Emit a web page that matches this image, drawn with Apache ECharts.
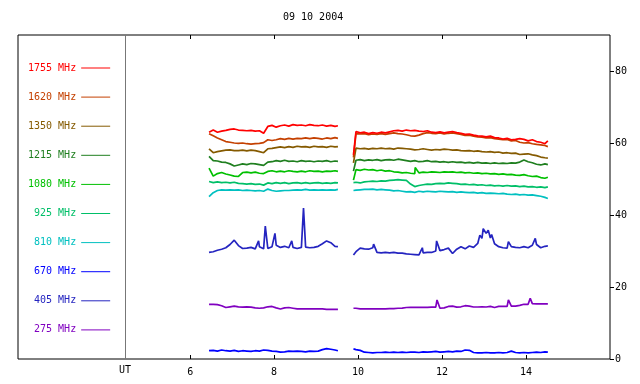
<!DOCTYPE html>
<html><head><meta charset="utf-8">
<script src="https://cdn.jsdelivr.net/npm/echarts@6/dist/echarts.min.js"></script>
<style>html,body{margin:0;padding:0;background:#fff}#c{width:640px;height:384px}</style>
</head><body><div id="c"></div>
<script>
const chartTitle = '09 10 2004';
const xTicks = [6, 8, 10, 12, 14];
const yTicks = [0, 20, 40, 60, 80];
const utHour = 4.45;

// sample times (UT hours), two observing segments
const T1 = [6.45,6.55,6.65,6.75,6.85,6.95,7.05,7.15,7.25,7.35,7.45,7.55,7.65,7.75,7.85,7.95,8.05,8.15,8.25,8.35,8.45,8.55,8.65,8.75,8.85,8.95,9.05,9.15,9.25,9.35,9.45,9.52];
const T2 = [9.89,9.95,10.05,10.15,10.25,10.35,10.45,10.55,10.65,10.75,10.85,10.95,11.05,11.15,11.25,11.35,11.45,11.55,11.65,11.75,11.85,11.95,12.05,12.15,12.25,12.35,12.45,12.55,12.65,12.75,12.85,12.95,13.05,13.15,13.25,13.35,13.45,13.55,13.65,13.75,13.85,13.95,14.05,14.15,14.25,14.35,14.45,14.52];

const names  = ['1755 MHz','1620 MHz','1350 MHz','1215 MHz','1080 MHz','925 MHz','810 MHz','670 MHz','405 MHz','275 MHz'];
const colors = ['#ff0000','#c44000','#855a00','#1f7f1f','#00c000','#00bf68','#00c0c0','#0000ff','#2424c0','#8000c0'];

const mhz1755 = [63.0,63.6,63.0,63.3,63.5,63.8,63.9,63.6,63.5,63.4, 63.5,63.3,63.4,62.7,64.6,64.9,64.4,64.8,65.0,64.7, 65.1,64.9,65.0,64.8,65.1,64.9,64.8,65.0,64.7,64.9, 64.6,64.8,
  56.7,63.2,62.8,63.0,62.6,62.9,62.7,63.0,62.8,63.1, 63.4,63.5,63.3,63.6,63.4,63.5,63.3,63.2,63.4,63.0, 62.9,63.1,62.8,63.0,63.2,62.9,62.7,62.4,62.5,62.2, 62.0,61.9,61.7,61.9,61.5,61.4,61.1,61.3,60.9,61.0, 61.2,61.0,60.6,60.9,60.4,60.2,59.8,60.6];
const mhz1620 = [62.6,62.0,61.4,60.9,60.4,60.2,60.0,59.9,60.0,59.8, 59.7,59.8,59.9,60.1,60.9,60.7,60.9,61.2,61.0,61.3, 61.1,61.3,61.2,61.4,61.2,61.4,61.3,61.1,61.4,61.2, 61.5,61.3,
  56.0,62.6,62.5,62.6,62.3,62.5,62.4,62.6,62.4,62.6, 62.8,62.6,62.5,62.3,62.0,61.9,62.2,62.6,62.9,62.7, 62.6,62.8,62.5,62.7,62.8,62.6,62.4,62.1,62.2,61.9, 61.7,61.6,61.4,61.5,61.2,61.1,60.9,61.0,60.6,60.7, 60.2,60.0,60.1,59.8,59.6,59.5,59.3,59.0];
const mhz1350 = [58.4,57.3,57.6,57.8,58.0,58.1,57.9,57.9,58.0,57.8, 58.0,57.9,57.6,57.3,58.4,58.5,58.7,58.9,58.7,59.0, 58.8,59.1,58.9,59.0,58.8,59.1,58.9,59.0,58.8,59.1, 58.9,59.0,
  54.5,58.6,58.4,58.5,58.3,58.5,58.4,58.6,58.4,58.5, 58.3,58.6,58.5,58.4,58.3,58.1,58.2,58.4,58.2,58.0, 58.2,58.1,58.3,58.2,58.0,58.1,57.9,57.8,57.9,57.7, 57.8,57.6,57.5,57.6,57.4,57.5,57.2,57.3,57.1,57.2, 56.8,56.9,57.0,56.7,56.5,56.1,55.9,55.8];
const mhz1215 = [56.3,55.1,55.0,54.7,54.6,54.2,53.6,53.9,54.2,54.0, 54.3,54.2,54.0,53.8,54.7,54.8,55.1,54.9,55.2,54.9, 55.0,54.8,55.1,54.9,55.0,54.8,55.0,54.9,55.1,54.8, 55.0,54.9,
  52.2,55.2,55.4,55.1,55.3,55.2,55.4,55.1,55.3,55.4, 55.2,55.5,55.3,55.1,54.9,55.1,54.8,54.9,55.1,54.8, 54.9,54.7,54.8,54.6,54.8,54.6,54.7,54.5,54.6,54.4, 54.6,54.4,54.5,54.3,54.5,54.3,54.4,54.3,54.5,54.4, 54.7,55.3,54.8,54.5,54.1,53.9,54.2,54.0];
const mhz1080 = [53.0,50.8,51.5,51.8,51.4,51.1,50.8,50.7,51.8,51.9, 51.7,51.9,51.6,51.5,52.1,52.3,52.0,52.2,52.0,52.3, 52.1,52.0,52.2,52.0,52.3,52.1,52.2,52.0,52.2,52.1, 52.3,52.1,
  49.7,52.6,52.4,52.7,52.5,52.6,52.3,52.5,52.2,52.3, 52.0,51.9,51.7,51.8,51.6,51.5,51.7,51.9,51.8,52.0, 51.9,51.8,52.0,51.9,52.0,51.8,51.9,51.7,51.8,51.6, 51.7,51.5,51.6,51.4,51.5,51.3,51.4,51.2,51.3,51.1, 51.0,51.2,50.9,50.7,50.8,50.4,50.2,50.5];
const mhz925 = [49.3,49.0,49.2,49.0,49.1,48.9,49.1,48.8,48.7,48.6, 48.7,48.5,48.6,48.3,48.9,48.7,49.0,48.8,49.0,48.7, 48.9,49.0,48.8,49.0,48.8,48.9,49.0,48.8,48.9,48.8, 49.0,48.9,
  49.0,49.1,48.9,49.2,49.3,49.4,49.3,49.5,49.4,49.6, 49.7,49.8,49.7,49.6,48.6,47.9,48.2,48.4,48.6,48.5, 48.7,48.8,48.7,48.9,48.8,48.7,48.5,48.6,48.4,48.5, 48.3,48.4,48.2,48.3,48.1,48.2,48.0,48.2,48.0,48.1, 47.9,48.0,47.8,47.9,47.7,47.8,47.6,47.8];
const mhz810 = [45.1,46.2,46.8,47.0,46.9,47.0,46.9,47.0,46.8,46.9, 46.8,46.7,46.8,46.6,47.2,46.8,46.6,46.7,46.8,46.8, 46.9,47.0,46.9,47.1,46.9,47.0,46.9,47.0,46.9,47.0, 46.9,47.1,
  46.8,46.9,47.0,47.1,47.1,47.2,47.0,47.1,47.0,46.9, 46.7,46.8,46.6,46.4,46.5,46.3,46.6,46.4,46.6,46.5, 46.4,46.6,46.5,46.4,46.5,46.3,46.4,46.3,46.2,46.3, 46.1,46.2,46.0,46.1,46.0,45.9,46.0,45.8,45.7,45.8, 45.6,45.7,45.5,45.6,45.4,45.2,44.9,44.6];
const mhz670 = [2.3,2.4,2.2,2.5,2.3,2.2,2.4,2.1,2.3,2.2, 2.1,2.3,2.2,2.5,2.4,2.2,2.1,1.9,2.0,2.2, 2.1,2.2,2.1,2.0,2.2,2.1,2.2,2.6,2.9,2.7, 2.5,2.3,
  2.8,2.6,2.4,1.9,1.8,1.7,1.8,1.8,1.9,1.8, 1.9,1.8,1.9,1.8,1.9,1.9,1.8,2.0,1.9,2.0, 2.1,1.9,2.0,2.1,2.0,2.2,2.1,2.5,2.4,1.8, 1.7,1.7,1.8,1.7,1.7,1.8,1.7,1.8,2.2,1.8, 1.7,1.8,1.7,1.8,1.9,1.8,2.0,1.9];
const mhz405 = [29.6,29.8,30.2,30.5,30.9,31.8,33.0,31.5,30.7,30.8, 31.0,30.6,31.2,30.6,30.7,31.2,31.6,31.0,31.3,30.9, 31.0,30.7,31.0,31.1,30.9,31.0,31.3,32.0,32.8,32.3, 31.3,31.2,
  28.9,29.8,30.8,30.6,30.5,30.9,29.6,29.5,29.6,29.5, 29.6,29.4,29.4,29.2,29.1,29.0,28.9,29.5,29.6,29.6, 30.0,30.1,30.4,30.8,29.3,30.5,31.2,30.6,31.4,31.0, 32.1,33.5,34.9,33.6,32.0,31.2,30.9,30.8,31.2,31.0, 30.9,31.2,30.9,31.6,31.8,30.9,31.3,31.4];
const mhz275 = [15.2,15.2,15.1,14.8,14.3,14.5,14.7,14.5,14.4,14.5, 14.4,14.2,14.1,14.2,14.5,14.6,14.2,13.9,14.2,14.3, 14.1,13.9,13.9,13.9,13.9,13.9,13.9,13.9,13.8,13.8, 13.8,13.8,
  14.1,14.1,13.9,13.9,13.9,13.9,13.9,13.9,13.9,14.0, 14.0,14.1,14.15,14.3,14.35,14.35,14.35,14.35,14.35,14.4, 14.4,14.1,14.2,14.6,14.7,14.4,14.5,14.8,14.7,14.45, 14.45,14.5,14.45,14.6,14.3,14.6,14.6,14.6,14.7,14.7, 14.9,15.2,15.2,15.4,15.3,15.3,15.3,15.3];

// short bursts (time, value)
const spikes405 = [[7.63,32.8],[7.79,36.9],[8.02,34.9],[8.42,32.8],[8.70,41.9],[10.37,31.9],[11.53,30.9],[11.87,32.8],[12.9,34.4],[12.98,36.2],[13.1,35.8],[13.18,34.6],[13.58,32.6],[14.22,33.5]];
const spikes275 = [[11.88,16.4],[13.58,16.4],[14.1,16.85]];
const spikes1080 = [[11.36,53.2]];

const values = [mhz1755, mhz1620, mhz1350, mhz1215, mhz1080, mhz925, mhz810, mhz670, mhz405, mhz275];
const spikeMap = {'405 MHz': spikes405, '275 MHz': spikes275, '1080 MHz': spikes1080};

function build(vals, spikes) {
  let a = T1.map((t, i) => [t, vals[i]]);
  let b = T2.map((t, i) => [t, vals[T1.length + i]]);
  (spikes || []).forEach(s => (s[0] < T2[0] ? a : b).push(s));
  a.sort((p, q) => p[0] - q[0]);
  b.sort((p, q) => p[0] - q[0]);
  return a.concat([[(T1[T1.length - 1] + T2[0]) / 2, '-']], b);
}

const FONT = 'DejaVu Sans Mono';
const series = [];
for (let i = names.length - 1; i >= 0; i--) {
  series.push({
    name: names[i], type: 'line', data: build(values[i], spikeMap[names[i]]),
    showSymbol: false, symbol: 'none', connectNulls: false, silent: true,
    lineStyle: {color: colors[i], width: 1.7}, itemStyle: {color: colors[i]},
    z: 3
  });
}
series[0].markLine = {
  silent: true, symbol: 'none', animation: false,
  lineStyle: {color: '#777', width: 1, type: 'solid'},
  label: {show: true, position: 'start', formatter: 'UT', distance: 6, color: '#000', fontFamily: FONT, fontSize: 10},
  data: [{xAxis: utHour}]
};

const chart = echarts.init(document.getElementById('c'), null, {renderer: 'canvas'});
chart.setOption({
  animation: false,
  backgroundColor: '#fff',
  title: {text: chartTitle, left: 283, top: 12, padding: 0,
    textStyle: {fontFamily: FONT, fontSize: 10, fontWeight: 'normal', color: '#000'}},
  legend: {
    orient: 'vertical', left: 28, top: 61, padding: 0, align: 'right',
    icon: 'rect', itemWidth: 29, itemHeight: 1, itemGap: 15.1, selectedMode: false,
    textStyle: {fontFamily: FONT, fontSize: 10, lineHeight: 14},
    data: names.map((n, i) => ({name: n, textStyle: {color: colors[i]}}))
  },
  grid: {left: 18, top: 35, right: 30, bottom: 25, show: true, borderColor: '#000', borderWidth: 1, backgroundColor: 'transparent'},
  xAxis: [{
    type: 'value', min: 1.9, max: 16, position: 'bottom',
    axisLine: {show: false}, splitLine: {show: false},
    axisTick: {show: true, inside: true, length: 4, customValues: xTicks, lineStyle: {color: '#000'}},
    axisLabel: {show: true, customValues: xTicks, margin: 8, color: '#000', fontFamily: FONT, fontSize: 10}
  }, {
    type: 'value', min: 1.9, max: 16, position: 'top',
    axisLine: {show: false}, splitLine: {show: false},
    axisTick: {show: true, inside: true, length: 4, customValues: xTicks, lineStyle: {color: '#000'}},
    axisLabel: {show: false}
  }],
  yAxis: {
    type: 'value', min: 0, max: 90, position: 'right',
    axisLine: {show: false}, splitLine: {show: false},
    axisTick: {show: true, inside: false, length: 4, customValues: yTicks, lineStyle: {color: '#000'}},
    axisLabel: {show: true, customValues: yTicks, margin: 5, color: '#000', fontFamily: FONT, fontSize: 10}
  },
  series: series
});
</script></body></html>
